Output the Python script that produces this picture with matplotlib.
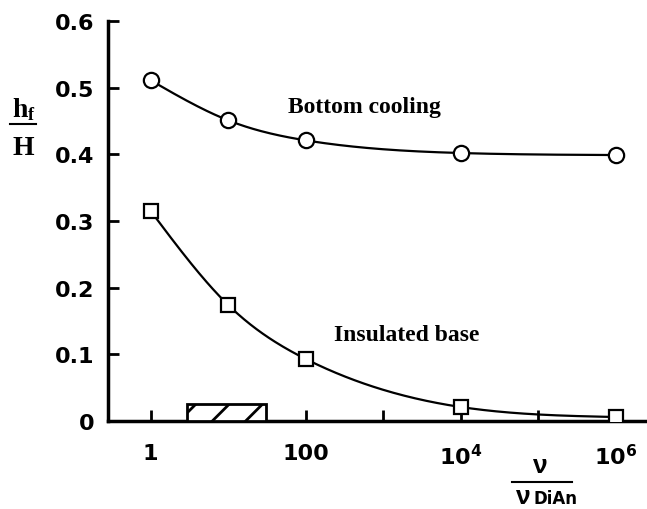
import numpy as np
import matplotlib.pyplot as plt
from matplotlib.patches import Rectangle
from matplotlib.lines import Line2D

plt.rcParams['mathtext.fontset'] = 'custom'
plt.rcParams['mathtext.rm'] = 'DejaVu Sans:bold'
plt.rcParams['mathtext.it'] = 'DejaVu Sans:bold'
plt.rcParams['mathtext.bf'] = 'DejaVu Sans:bold'
plt.rcParams['hatch.linewidth'] = 2.0

# data
x_cool = [1, 10, 100, 1e4, 1e6]
h_cool = [0.511, 0.451, 0.421, 0.402, 0.399]
x_ins = [1, 10, 100, 1e4, 1e6]
h_ins = [0.315, 0.174, 0.093, 0.021, 0.006]
band = [2.9, 31]          # shaded nu/nu_DiAn range
band_h = 0.026
tick_pos = [1, 10, 100, 1e3, 1e4, 1e5, 1e6]
tick_lab = ["1", "", "100", "", "$10^4$", "", "$10^6$"]


def spline(x, y, xs):
    # natural cubic spline for the smooth guide line
    x = np.asarray(x, float); y = np.asarray(y, float)
    n = len(x); h = np.diff(x)
    A = np.zeros((n, n)); b = np.zeros(n)
    A[0, 0] = A[-1, -1] = 1
    for i in range(1, n - 1):
        A[i, i - 1] = h[i - 1]; A[i, i] = 2 * (h[i - 1] + h[i]); A[i, i + 1] = h[i]
        b[i] = 6 * ((y[i + 1] - y[i]) / h[i] - (y[i] - y[i - 1]) / h[i - 1])
    M = np.linalg.solve(A, b)
    k = np.clip(np.searchsorted(x, xs) - 1, 0, n - 2)
    t1 = x[k + 1] - xs; t0 = xs - x[k]; hk = h[k]
    return (M[k] * t1**3 + M[k + 1] * t0**3) / (6 * hk) \
        + (y[k] / hk - M[k] * hk / 6) * t1 + (y[k + 1] / hk - M[k + 1] * hk / 6) * t0


fig = plt.figure(figsize=(6.47, 5.1), dpi=100)
ax = fig.add_axes([0.167, 0.1725, 0.833, 0.7843])

for xs_, ys_, mk, ms in [(x_cool, h_cool, 'o', 11), (x_ins, h_ins, 's', 9.5)]:
    lx = np.log10(xs_)
    grid = np.linspace(lx[0], lx[-1], 300)
    ax.plot(10**grid, spline(lx, ys_, grid), color='black', lw=1.6, zorder=2)
    ax.plot(xs_, ys_, mk, ms=ms, mfc='white', mec='black', mew=1.6, ls='none',
            zorder=4)

ax.add_patch(Rectangle((band[0], 0), band[1] - band[0], band_h, facecolor='white',
                       edgecolor='black', hatch='/', lw=2, zorder=3))

ax.set_xscale('log')
ax.set_xlim(10**-0.55, 10**6.40)
ax.set_ylim(0, 0.6)
ax.set_xticks(tick_pos)
ax.set_xticklabels(tick_lab)
ax.minorticks_off()
ax.set_yticks([0, 0.1, 0.2, 0.3, 0.4, 0.5, 0.6])
ax.set_yticklabels(["0", "0.1", "0.2", "0.3", "0.4", "0.5", "0.6"])
for s in ['top', 'right']:
    ax.spines[s].set_visible(False)
for s in ['left', 'bottom']:
    ax.spines[s].set_linewidth(2.5)
ax.tick_params(direction='in', length=8, width=2)
ax.tick_params(axis='x', pad=16)
ax.tick_params(axis='y', pad=10)
for lab in ax.get_xticklabels() + ax.get_yticklabels():
    lab.set_fontfamily('DejaVu Sans')
    lab.set_fontweight('bold')
    lab.set_fontsize(16)

ax.text(0.334, 0.7875, "Bottom cooling", transform=ax.transAxes, fontsize=17,
        family='Liberation Serif', weight='bold', ha='left', va='center')
ax.text(0.42, 0.2175, "Insulated base", transform=ax.transAxes, fontsize=17,
        family='Liberation Serif', weight='bold', ha='left', va='center')

# y label as a fraction
fig.text(0.031, 0.7706, "h", fontsize=20, family='Liberation Serif',
         weight='bold', ha='center', va='baseline')
fig.text(0.048, 0.765, "f", fontsize=13, family='Liberation Serif',
         weight='bold', ha='center', va='baseline')
fig.add_artist(Line2D([0.0155, 0.055], [0.755, 0.755], color='black', lw=1.5))
fig.text(0.036, 0.696, "H", fontsize=20, family='Liberation Serif',
         weight='bold', ha='center', va='baseline')

# x label as a fraction
fig.text(0.835, 0.0725, "ν", fontsize=19, family='Liberation Sans',
         weight='bold', ha='center', va='baseline')
fig.add_artist(Line2D([0.791, 0.884], [0.053, 0.053], color='black', lw=1.5))
fig.text(0.809, 0.012, "ν", fontsize=19, family='Liberation Sans',
         weight='bold', ha='center', va='baseline')
fig.text(0.859, 0.012, "DiAn", fontsize=12, family='DejaVu Sans',
         weight='bold', ha='center', va='baseline')

fig.savefig("out.png", dpi=100)
